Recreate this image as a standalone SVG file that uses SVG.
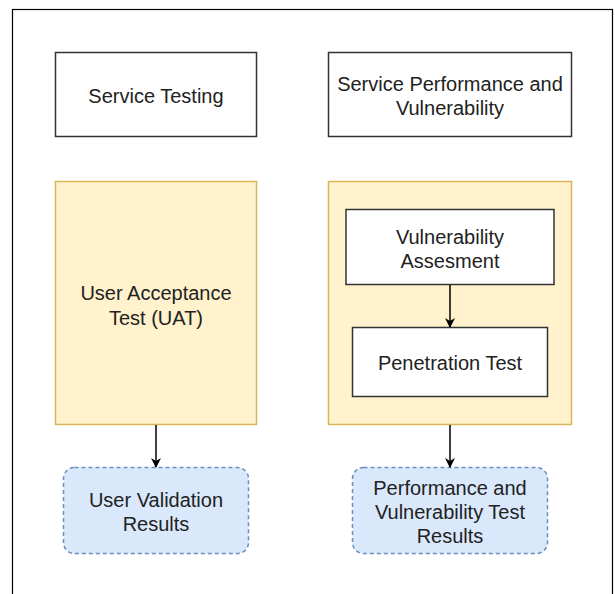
<svg xmlns="http://www.w3.org/2000/svg" width="615" height="594" viewBox="0 0 615 594">
<style>
text{font-family:"Liberation Sans",Arial,sans-serif;font-size:20px;fill:#222;text-anchor:middle}
.box{fill:#fff;stroke:#333;stroke-width:1.5}
.grp{fill:#fff2cc;stroke:#d6b656;stroke-width:1.5}
.res{fill:#dae8fc;stroke:#6c8ebf;stroke-width:1.5;stroke-dasharray:4 3}
.edge{stroke:#000;stroke-width:1.5;fill:none;marker-end:url(#arr)}
</style>
<defs>
<marker id="arr" viewBox="0 0 10 10" refX="9" refY="5" markerWidth="10" markerHeight="10" markerUnits="userSpaceOnUse" orient="auto">
<path d="M0,0 L10,5 L0,10 L3,5 Z" fill="#000"/>
</marker>
</defs>
<rect x="0" y="0" width="615" height="594" fill="#fff"/>
<rect id="frame" x="12.5" y="9.5" width="600" height="600" fill="none" stroke="#000" stroke-width="1.2"/>
<g id="service-testing"><rect class="box" x="55.5" y="52.5" width="201" height="84"/><text x="156" y="103">Service Testing</text></g>
<g id="service-perf"><rect class="box" x="328.5" y="52.5" width="243" height="84"/><text x="450" y="91">Service Performance and</text><text x="450" y="115">Vulnerability</text></g>
<g id="uat"><rect class="grp" x="55.5" y="181.5" width="201" height="243"/><text x="156" y="300">User Acceptance</text><text x="156" y="325">Test (UAT)</text></g>
<g id="perf-group"><rect class="grp" x="328.5" y="181.5" width="243" height="243"/></g>
<g id="vuln-assess"><rect class="box" x="346" y="209.5" width="208" height="75"/><text x="450" y="244">Vulnerability</text><text x="450" y="268">Assesment</text></g>
<g id="pen-test"><rect class="box" x="352.5" y="327.5" width="195" height="69"/><text x="450" y="370">Penetration Test</text></g>
<g id="user-results"><rect class="res" x="63.5" y="467.5" width="185" height="86" rx="11"/><text x="156" y="507">User Validation</text><text x="156" y="531">Results</text></g>
<g id="perf-results"><rect class="res" x="352.5" y="467.5" width="195" height="86" rx="11"/><text x="450" y="495">Performance and</text><text x="450" y="519">Vulnerability Test</text><text x="450" y="543">Results</text></g>
<g id="connectors">
<path class="edge" d="M450,285 L450,327"/>
<path class="edge" d="M156,425 L156,467"/>
<path class="edge" d="M450,425 L450,467"/>
</g>
</svg>
